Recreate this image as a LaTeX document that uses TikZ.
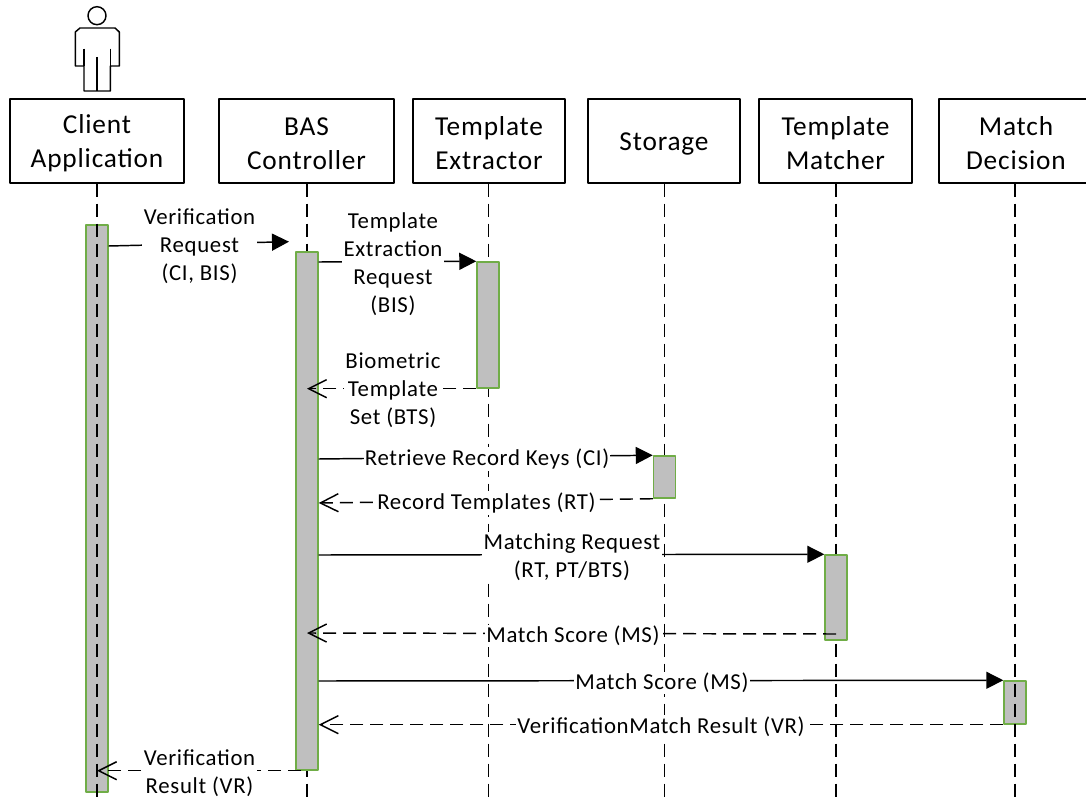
\documentclass[tikz,border=0pt]{standalone}
\usepackage{fontspec}
\setmainfont{Carlito}[LetterSpace=3]
\usetikzlibrary{arrows.meta}
\definecolor{barGreen}{HTML}{70AD47}
\definecolor{barGray}{HTML}{BFBFBF}
\newcommand{\headstrut}{\rule{0pt}{18pt}}

\tikzset{
  head/.style={draw,line width=1.1pt,minimum height=63pt,inner sep=0pt,align=center,font=\fontsize{20.5}{25.5}\selectfont},
  lifeline/.style={line width=1.1pt,dash pattern=on 9.75pt off 5.25pt},
  execbar/.style={draw=barGreen,fill=barGray,line width=1.1pt,minimum width=16.5pt,inner sep=0pt},
  msglabel/.style={fill=white,inner sep=1pt,align=center,font=\fontsize{17.1}{21}\selectfont},
  call/.style={line width=1.1pt,-{Triangle[length=12.75pt,width=12.75pt]}},
  reply/.style={line width=1.1pt,dash pattern=on 9.75pt off 5.25pt,-{Straight Barb[length=13.5pt,width=13.5pt,line width=1.1pt]}}
}

\begin{document}
\begin{tikzpicture}
    [line cap=butt,line join=round,x=0.75pt,y=-0.75pt]
\useasboundingbox (0,0) rectangle (1086,802);
%person
\draw[line width=1.1pt] (97,15.7) circle (6.75pt);
\draw[line width=1.1pt] (84,91) -- (84,66) -- (75.3,66) -- (75.3,32) -- (80,28) -- (115,28) -- (119.3,32) -- (119.3,66) -- (110.3,66) -- (110.3,91) -- cycle;
\draw[line width=1.1pt] (84,48.7) -- (84,66) (110.3,48.7) -- (110.3,66) (97,57) -- (97,91);

%the heads
\node[head,minimum width=130.5pt] (client) at (97,141) {\headstrut Client\\Application};
\node[head,minimum width=131.25pt] (control) at (306.5,141) {\headstrut BAS\\Controller};
\node[head,minimum width=114pt] (extract) at (489,141) {\headstrut Template\\Extractor};
\node[head,minimum width=114pt] (store) at (664,141) {\headstrut Storage};
\node[head,minimum width=114.75pt] (matcher) at (835.5,141) {\headstrut Template\\Matcher};
\node[head,minimum width=115.5pt] (decide) at (1016,141) {\headstrut Match\\Decision};

%lifelines
\coordinate (clientend) at (97,802);
\coordinate (controlend) at (307,802);
\coordinate (extractend) at (488.3,802);
\coordinate (storeend) at (664.3,802);
\coordinate (matcherend) at (836,802);
\coordinate (decideend) at (1015,802);
\draw[lifeline] (control.south -| controlend) -- (controlend);
\draw[lifeline] (extract.south -| extractend) -- (extractend);
\draw[lifeline] (store.south -| storeend) -- (storeend);
\draw[lifeline] (matcher.south -| matcherend) -- (matcherend);

%the bars
\node[execbar,minimum height=425pt] (clientbar) at (97,508.5) {};
\node[execbar,minimum height=388.5pt] (controlbar) at (307,511) {};
\node[execbar,minimum height=94.5pt] (extractbar) at (488,325) {};
\node[execbar,minimum height=31.5pt] (storebar) at (664.5,477) {};
\node[execbar,minimum height=63.75pt] (matcherbar) at (836,597.5) {};
\node[execbar,minimum height=32.25pt] (decidebar) at (1015,702.5) {};

\draw[lifeline] (client.south) -- (clientend);
\draw[lifeline] (decide.south -| decideend) -- (decideend);

%messages
\coordinate (reqtip) at (289,241.7);
\draw[call] (clientbar.east |- 0,246) -- (reqtip);
\draw[call] (controlbar.east |- 0,262) -- (extractbar.north west);
\draw[reply] (extractbar.south west) -- (controlbar.center |- extractbar.south);
\draw[call] (controlbar.east |- 0,459) -- (storebar.north west);
\draw[reply] (storebar.south west) -- (controlbar.east |- 0,503);
\draw[call] (controlbar.east |- 0,555) -- (matcherbar.north west);
\draw[reply] (matcherbar.center |- 0,634) -- (controlbar.center |- 0,633);
\draw[call] (controlbar.east |- 0,681) -- (decidebar.north west);
\draw[reply] (decidebar.south west) -- (controlbar.east |- decidebar.south);
\draw[reply] ([xshift=-4.5pt]controlbar.south) -- (clientbar.center |- controlbar.south);

%labels
\node[msglabel] (verreq) at (199.5,246) {Verification\\Request\\(CI, BIS)};
\node[msglabel] (extreq) at (393,264.5) {Template\\Extraction\\Request\\(BIS)};
\node[msglabel] (btsset) at (393,390.5) {Biometric\\Template\\Set (BTS)};
\node[msglabel] (keyreq) at (487,459) {Retrieve Record Keys (CI)};
\node[msglabel] (rectmp) at (486.5,503) {Record Templates (RT)};
\node[msglabel] (matchreq) at (572,557) {Matching Request\\(RT, PT/BTS)};
\node[msglabel] (scoreback) at (573,636) {Match Score (MS)};
\node[msglabel] (scoreout) at (662,683) {Match Score (MS)};
\node[msglabel] (result) at (661,726.5) {VerificationMatch Result (VR)};
\node[msglabel] (verres) at (199.5,773) {Verification\\Result (VR)};
\end{tikzpicture}
\end{document}
